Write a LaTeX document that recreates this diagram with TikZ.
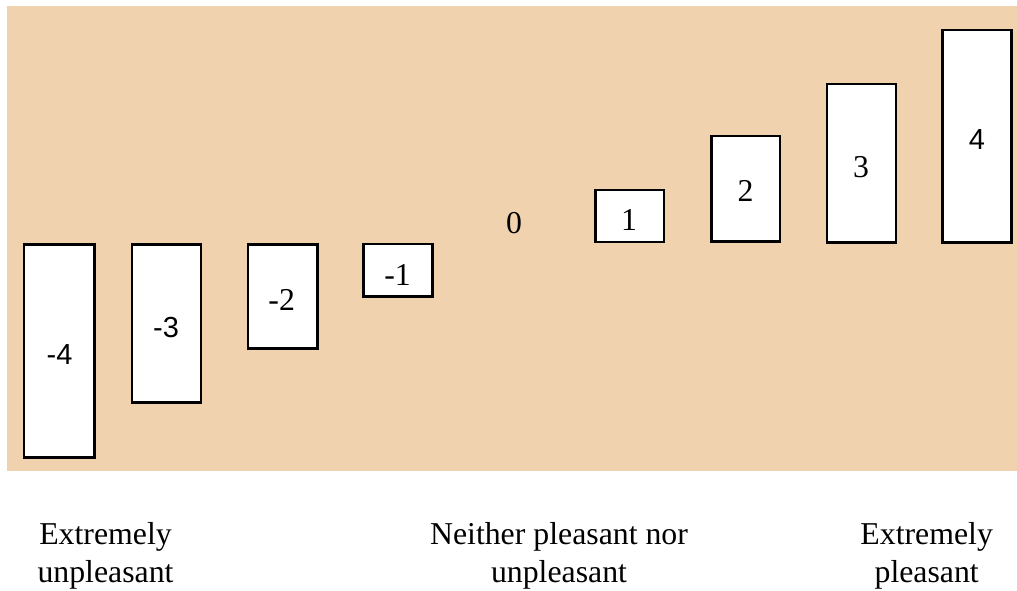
\documentclass[tikz,border=0pt]{standalone}
\usepackage{fontspec}
\setmainfont{Liberation Serif}
\newfontfamily\sansdigits{Liberation Sans}
\definecolor{sand}{RGB}{240,211,174}
\tikzset{
  scalebox/.style={draw=black, line width=2.6pt, fill=white},
  numsans/.style={anchor=base, inner sep=0pt, font=\sansdigits\fontsize{29}{34}\selectfont},
  numserif/.style={anchor=base, inner sep=0pt, font=\fontsize{31.8}{37}\selectfont},
  endlabel/.style={anchor=base, inner sep=0pt, align=center, font=\fontsize{31.8}{37.2}\selectfont}
}
\begin{document}
\begin{tikzpicture}[x=1pt, y=-1pt]
  \useasboundingbox (0,0) rectangle (1017,590);
  % backdrop
  \fill[sand] (7,6) rectangle (1017,471);
  % rating boxes, from -4 to 4
  \draw[scalebox] (24,244.3) rectangle (94.4,457.4) coordinate (bm4);
  \draw[scalebox] (132,244.3) rectangle (201,402.7) coordinate (bm3);
  \draw[scalebox] (248,244.6) rectangle (317.4,348.7) coordinate (bm2);
  \draw[scalebox] (363.3,244) rectangle (432.7,296.4) coordinate (bm1);
  \draw[scalebox] (595.3,190) rectangle (664,242) coordinate (bp1);
  \draw[scalebox] (711.3,136) rectangle (780,241.4) coordinate (bp2);
  \draw[scalebox] (827,84) rectangle (896,242.7) coordinate (bp3);
  \draw[scalebox] (942.3,30) rectangle (1011.4,242.7) coordinate (bp4);
  % numbers
  \node[numsans]  (nm4) at (59.5,364) {-4};
  \node[numsans]  (nm3) at (166,337)  {-3};
  \node[numserif] (nm2) at (281.7,310) {-2};
  \node[numserif] (nm1) at (397.5,285) {-1};
  \node[numserif] (n0)  at (514,233) {0};
  \node[numserif] (np1) at (629,230) {1};
  \node[numserif] (np2) at (745.5,201) {2};
  \node[numserif] (np3) at (861,177) {3};
  \node[numsans]  (np4) at (977,149) {4};
  % end point descriptions
  \node[endlabel] (low)  at (105.5,582) {Extremely\\unpleasant};
  \node[endlabel] (mid)  at (559,582)   {Neither pleasant nor\\unpleasant};
  \node[endlabel] (high) at (926.7,582) {Extremely\\pleasant};
\end{tikzpicture}
\end{document}
